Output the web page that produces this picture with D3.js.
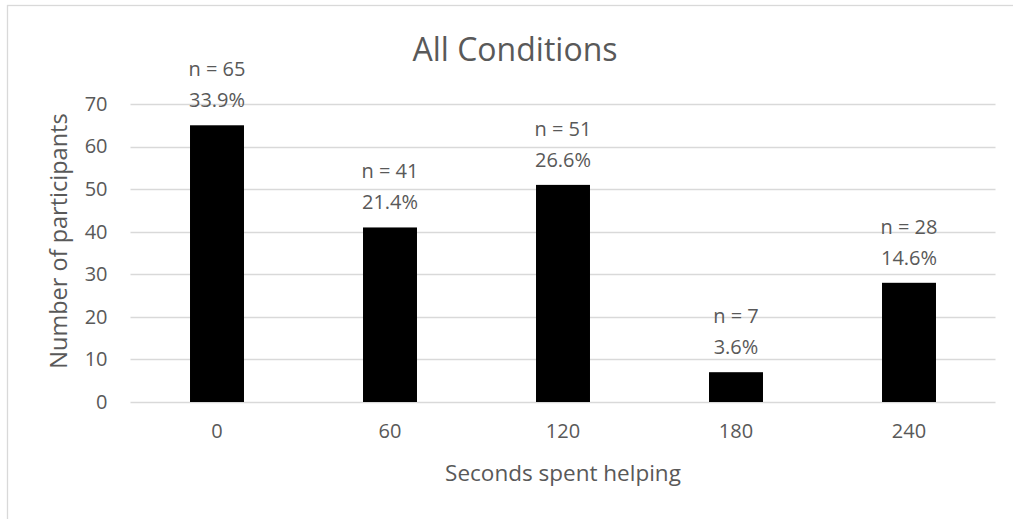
<!DOCTYPE html>
<html>
<head>
<meta charset="utf-8">
<script src="https://cdn.jsdelivr.net/npm/d3@7"></script>
<style>
  html, body { margin: 0; padding: 0; background: #fff; }
  svg { display: block; font-family: "Open Sans", sans-serif; }
</style>
</head>
<body>
<svg id="chart" width="1013" height="519"></svg>
<script>
// Helping time categories (seconds) and participant counts
const categories = ["0", "60", "120", "180", "240"];
const counts = [65, 41, 51, 7, 28];
const yTicks = [0, 10, 20, 30, 40, 50, 60, 70];

const total = d3.sum(counts);
const pct = d3.format(".1%");

const svg = d3.select("#chart");
const textColor = "#595959";
const gridColor = "#d9d9d9";

// Chart frame (left and top edges fall inside the view)
svg.append("rect")
  .attr("x", 7.5).attr("y", 5.5)
  .attr("width", 1030).attr("height", 540)
  .attr("fill", "none")
  .attr("stroke", gridColor)
  .attr("stroke-width", 1.3);

const plot = { left: 130.5, right: 995.5, top: 104, bottom: 402 };

const x = d3.scaleBand()
  .domain(categories)
  .range([plot.left, plot.right])
  .paddingInner(0.688)
  .paddingOuter(0.344);

const y = d3.scaleLinear()
  .domain([0, 70])
  .range([plot.bottom, plot.top]);

// Horizontal gridlines
svg.append("g")
  .selectAll("line")
  .data(yTicks)
  .join("line")
  .attr("x1", plot.left)
  .attr("x2", plot.right)
  .attr("y1", d => Math.round(y(d)) + 0.5)
  .attr("y2", d => Math.round(y(d)) + 0.5)
  .attr("stroke", gridColor)
  .attr("stroke-width", 1.3);

// Y axis labels
const yAxis = svg.append("g")
  .attr("transform", `translate(${plot.left},0)`)
  .call(d3.axisLeft(y).tickValues(yTicks).tickSize(0).tickPadding(23));
yAxis.select(".domain").remove();
yAxis.selectAll("text")
  .attr("fill", textColor)
  .style("font-size", "20px")
  .style("font-family", "'Open Sans', sans-serif");

// X axis labels
const xAxis = svg.append("g")
  .attr("transform", `translate(0,${plot.bottom})`)
  .call(d3.axisBottom(x).tickSize(0).tickPadding(22));
xAxis.select(".domain").remove();
xAxis.selectAll("text")
  .attr("fill", textColor)
  .style("font-size", "20px")
  .style("font-family", "'Open Sans', sans-serif");

// Bars
svg.append("g")
  .selectAll("rect")
  .data(counts)
  .join("rect")
  .attr("x", (d, i) => x(categories[i]))
  .attr("width", x.bandwidth())
  .attr("y", d => y(d))
  .attr("height", d => y(0) - y(d))
  .attr("fill", "#000");

// Data labels: count and share of total
const labels = svg.append("g")
  .selectAll("text")
  .data(counts)
  .join("text")
  .attr("text-anchor", "middle")
  .attr("fill", textColor)
  .style("font-size", "20px");
labels.append("tspan")
  .attr("x", (d, i) => x(categories[i]) + x.bandwidth() / 2)
  .attr("y", d => y(d) - 49)
  .text(d => `n = ${d}`);
labels.append("tspan")
  .attr("x", (d, i) => x(categories[i]) + x.bandwidth() / 2)
  .attr("y", d => y(d) - 18)
  .text(d => pct(d / total));

// Title
svg.append("text")
  .attr("x", 515).attr("y", 61)
  .attr("text-anchor", "middle")
  .attr("fill", textColor)
  .style("font-size", "32px")
  .text("All Conditions");

// Axis titles
svg.append("text")
  .attr("x", (plot.left + plot.right) / 2)
  .attr("y", 481)
  .attr("text-anchor", "middle")
  .attr("fill", textColor)
  .style("font-size", "22.5px")
  .text("Seconds spent helping");

svg.append("text")
  .attr("transform", "translate(67,241) rotate(-90)")
  .attr("text-anchor", "middle")
  .attr("fill", textColor)
  .style("font-size", "23.5px")
  .text("Number of participants");
</script>
</body>
</html>
